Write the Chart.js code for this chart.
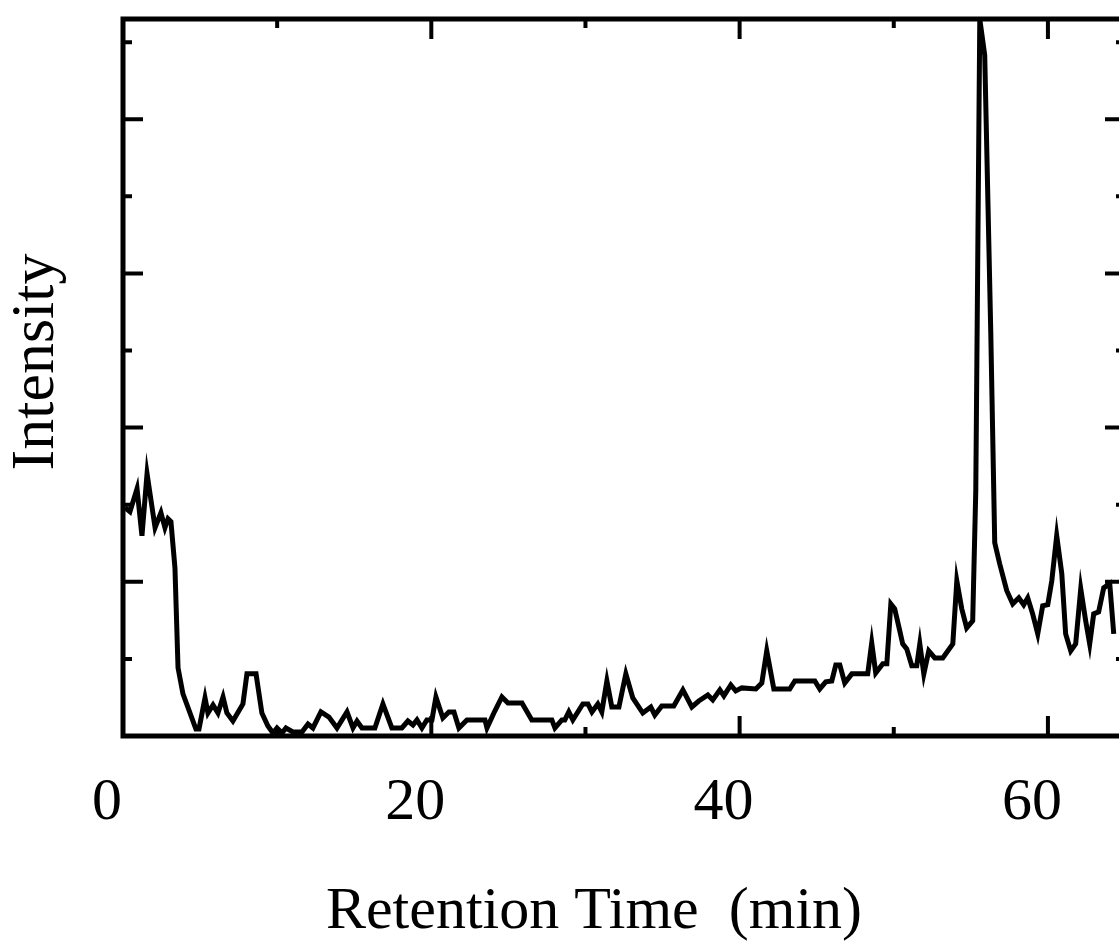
<!DOCTYPE html>
<html>
<head>
<meta charset="utf-8">
<script src="https://cdn.jsdelivr.net/npm/chart.js"></script>
<style>
  html, body { margin: 0; padding: 0; background: #fff; overflow: hidden; }
  canvas { display: block; }
</style>
</head>
<body>
<canvas id="chart" width="1157" height="945"></canvas>
<script>
// Chromatogram: retention time (min) and relative intensity
const retentionTime = [
    0.13, 0.45, 0.91, 1.23, 1.56, 2.08, 2.46, 2.72, 2.92, 3.11,
    3.37, 3.57, 3.89, 4.73, 4.93, 5.32, 5.51, 5.84, 6.16, 6.49,
    6.74, 7.13, 7.78, 8.04, 8.63, 9.01, 9.40, 9.73, 9.99, 10.31,
    10.57, 11.02, 11.61, 12.00, 12.32, 12.84, 13.36, 13.88, 14.53, 14.92,
    15.18, 15.50, 16.34, 16.86, 17.44, 18.09, 18.48, 18.81, 19.07, 19.39,
    19.71, 20.04, 20.30, 20.75, 21.14, 21.47, 21.79, 22.31, 23.48, 23.61,
    24.12, 24.58, 24.97, 25.88, 26.52, 27.82, 28.02, 28.47, 28.66, 28.92,
    29.18, 29.83, 30.16, 30.42, 30.80, 31.06, 31.39, 31.71, 32.17, 32.62,
    33.07, 33.72, 34.24, 34.50, 34.95, 35.73, 36.32, 36.90, 37.35, 37.94,
    38.26, 38.72, 38.98, 39.43, 39.75, 40.14, 41.05, 41.44, 41.76, 42.22,
    43.25, 43.58, 44.88, 45.20, 45.59, 45.98, 46.24, 46.50, 46.82, 47.28,
    48.31, 48.57, 48.83, 49.29, 49.55, 49.81, 50.06, 50.39, 50.58, 50.84,
    51.17, 51.49, 51.69, 51.95, 52.27, 52.66, 53.18, 53.83, 54.09, 54.41,
    54.73, 55.12, 55.32, 55.58, 55.90, 56.29, 56.55, 56.87, 57.33, 57.72,
    58.11, 58.43, 58.69, 59.01, 59.34, 59.66, 59.99, 60.25, 60.57, 60.90,
    61.15, 61.48, 61.80, 62.13, 62.45, 62.71, 62.97, 63.29, 63.62, 64.01,
    64.27
];
const intensity = [
    1.481, 1.455, 1.604, 1.299, 1.701, 1.351, 1.448, 1.351, 1.409, 1.390,
    1.091, 0.442, 0.273, 0.045, 0.045, 0.247, 0.149, 0.201, 0.149, 0.253,
    0.149, 0.097, 0.208, 0.403, 0.403, 0.149, 0.065, 0.019, 0.052, 0.019,
    0.052, 0.026, 0.026, 0.078, 0.052, 0.156, 0.123, 0.052, 0.156, 0.052,
    0.097, 0.052, 0.052, 0.208, 0.052, 0.052, 0.097, 0.071, 0.104, 0.052,
    0.104, 0.104, 0.253, 0.117, 0.156, 0.156, 0.052, 0.104, 0.104, 0.052,
    0.162, 0.253, 0.214, 0.214, 0.104, 0.104, 0.052, 0.104, 0.104, 0.156,
    0.104, 0.208, 0.208, 0.156, 0.208, 0.156, 0.357, 0.188, 0.188, 0.403,
    0.247, 0.149, 0.188, 0.136, 0.195, 0.195, 0.299, 0.188, 0.227, 0.266,
    0.234, 0.299, 0.260, 0.331, 0.292, 0.312, 0.305, 0.344, 0.552, 0.305,
    0.305, 0.357, 0.357, 0.305, 0.351, 0.357, 0.461, 0.461, 0.344, 0.403,
    0.403, 0.604, 0.409, 0.468, 0.468, 0.857, 0.825, 0.682, 0.597, 0.565,
    0.455, 0.455, 0.597, 0.403, 0.552, 0.506, 0.506, 0.597, 1.006, 0.825,
    0.701, 0.747, 1.591, 4.649, 4.416, 2.630, 1.253, 1.117, 0.942, 0.857,
    0.896, 0.851, 0.896, 0.792, 0.662, 0.844, 0.851, 1.006, 1.299, 1.052,
    0.662, 0.552, 0.597, 0.955, 0.747, 0.597, 0.792, 0.805, 0.961, 0.987,
    0.662
];
const xLabels = [0, 20, 40, 60];

// inward ticks on all four sides plus the frame
const frameTicks = {
    id: 'frameTicks',
    afterDatasetsDraw(chart) {
        const { ctx, chartArea: a, scales: { x, y } } = chart;
        ctx.save();
        ctx.strokeStyle = '#000';
        ctx.lineWidth = 4;
        ctx.beginPath();
        x.ticks.forEach(t => {
            if (t.value <= 0 || t.value % 10 !== 0) return;
            const px = x.getPixelForValue(t.value);
            const len = t.value % 20 === 0 ? 20 : 9;
            ctx.moveTo(px, a.bottom); ctx.lineTo(px, a.bottom - len);
            ctx.moveTo(px, a.top); ctx.lineTo(px, a.top + len);
        });
        y.ticks.forEach(t => {
            const v2 = t.value * 2;
            if (t.value <= 0 || Math.abs(v2 - Math.round(v2)) > 1e-6) return;
            const py = y.getPixelForValue(t.value);
            const len = Math.round(v2) % 2 === 0 ? 20 : 9;
            ctx.moveTo(a.left, py); ctx.lineTo(a.left + len, py);
            ctx.moveTo(a.right, py); ctx.lineTo(a.right - len, py);
        });
        ctx.stroke();
        ctx.lineWidth = 5;
        ctx.strokeRect(a.left, a.top, a.right - a.left, a.bottom - a.top);
        ctx.restore();
    }
};

const serif = 'Liberation Serif';

new Chart(document.getElementById('chart'), {
    type: 'line',
    data: {
        datasets: [{
            data: retentionTime.map((t, i) => ({ x: t, y: intensity[i] })),
            borderColor: '#000',
            borderWidth: 5,
            pointRadius: 0,
            tension: 0,
            fill: false
        }]
    },
    options: {
        responsive: false,
        animation: false,
        devicePixelRatio: 1,
        // right axis sits just past the window edge, as in the original crop
        layout: { padding: { top: 19, right: 32, left: 0, bottom: 0 } },
        plugins: {
            legend: { display: false },
            tooltip: { enabled: false }
        },
        scales: {
            x: {
                type: 'linear',
                min: 0,
                max: 65,
                grid: { display: false, drawTicks: false },
                border: { display: false },
                ticks: {
                    stepSize: 10,
                    includeBounds: false,
                    autoSkip: false,
                    maxRotation: 0,
                    padding: 31,
                    labelOffset: -16,
                    color: '#000',
                    font: { family: serif, size: 60 },
                    callback: v => xLabels.includes(v) ? String(v) : ''
                },
                title: {
                    display: true,
                    text: 'Retention Time  (min)    ',
                    color: '#000',
                    font: { family: serif, size: 60, lineHeight: 1 },
                    padding: { top: 0, bottom: 3 }
                },
                afterFit: s => { s.height = 209; }
            },
            y: {
                min: 0,
                max: 4.65,
                grid: { display: false, drawTicks: false },
                border: { display: false },
                ticks: { display: false, stepSize: 0.5, includeBounds: false },
                title: {
                    display: true,
                    text: '  Intensity',
                    color: '#000',
                    font: { family: serif, size: 62, lineHeight: 1 },
                    padding: { top: 6, bottom: 0 }
                },
                afterFit: s => { s.width = 123; }
            }
        }
    },
    plugins: [frameTicks]
});
</script>
</body>
</html>
